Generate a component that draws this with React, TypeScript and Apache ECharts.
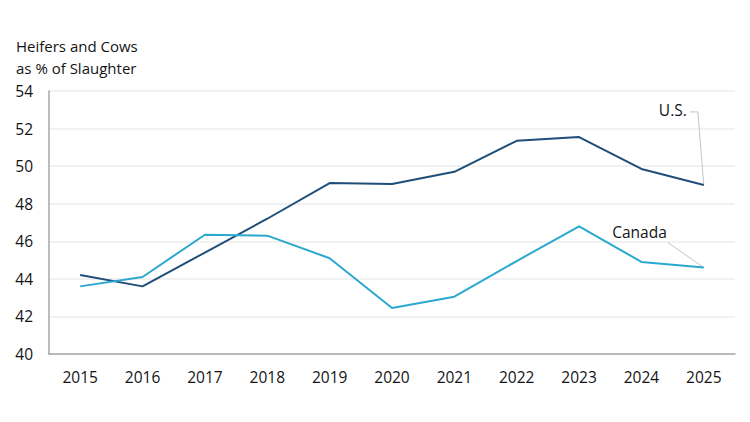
import React, { useEffect, useRef } from "react";
import * as echarts from "echarts";

const years = ["2015", "2016", "2017", "2018", "2019", "2020", "2021", "2022", "2023", "2024", "2025"];
const usValues = [44.2, 43.6, 45.4, 47.2, 49.1, 49.05, 49.7, 51.35, 51.55, 49.85, 49.0];
const canadaValues = [43.6, 44.1, 46.35, 46.3, 45.1, 42.45, 43.05, 44.95, 46.8, 44.9, 44.6];
const yTitleLines = ["Heifers and Cows", "as % of Slaughter"];

const FONT = "'Open Sans', 'Noto Sans', sans-serif";
const TEXT = "#141414";

export default function App() {
  const ref = useRef<HTMLDivElement>(null);
  useEffect(() => {
    if (!ref.current) return;
    const chart = echarts.init(ref.current, null, { renderer: "svg" });
    chart.setOption({
      animation: false,
      grid: { left: 49, right: 15, top: 91, bottom: 68 },
      xAxis: {
        type: "category",
        data: years,
        boundaryGap: true,
        axisLine: { lineStyle: { color: "#a6a6a6", width: 1.5 } },
        axisTick: { show: false },
        axisLabel: { color: TEXT, fontSize: 15.5, fontFamily: FONT, margin: 15 },
      },
      yAxis: {
        type: "value",
        min: 40,
        max: 54,
        interval: 2,
        axisLine: { show: true, lineStyle: { color: "#a6a6a6", width: 1.5 } },
        axisTick: { show: false },
        splitLine: { lineStyle: { color: "#ececec", width: 1.5 } },
        axisLabel: { color: TEXT, fontSize: 15.5, fontFamily: FONT, margin: 16 },
      },
      series: [
        {
          name: "U.S.",
          type: "line",
          data: usValues,
          symbol: "none",
          lineStyle: { color: "#1f4e79", width: 2 },
        },
        {
          name: "Canada",
          type: "line",
          data: canadaValues,
          symbol: "none",
          lineStyle: { color: "#2aa8cf", width: 2 },
        },
      ],
    });

    const last = years.length - 1;
    const usPt = chart.convertToPixel({ seriesIndex: 0 }, [last, usValues[last]]) as number[];
    const caPt = chart.convertToPixel({ seriesIndex: 1 }, [last, canadaValues[last]]) as number[];
    chart.setOption({
      graphic: [
        {
          type: "text",
          left: 16,
          top: 35,
          style: {
            text: yTitleLines.join("\n"),
            fontSize: 15,
            lineHeight: 22,
            fontFamily: FONT,
            fill: TEXT,
          },
        },
        {
          type: "text",
          x: usPt[0] - 17,
          y: usPt[1] - 75,
          style: { text: "U.S.", fontSize: 15.5, fontFamily: FONT, fill: TEXT, align: "right", verticalAlign: "middle" },
        },
        {
          type: "polyline",
          shape: { points: [[usPt[0] - 14, usPt[1] - 73], [usPt[0] - 6, usPt[1] - 73], [usPt[0], usPt[1]]] },
          style: { stroke: "#c4c4c4", lineWidth: 1, fill: "none" },
        },
        {
          type: "text",
          x: caPt[0] - 37,
          y: caPt[1] - 36,
          style: { text: "Canada", fontSize: 15.5, fontFamily: FONT, fill: TEXT, align: "right", verticalAlign: "middle" },
        },
        {
          type: "line",
          shape: { x1: caPt[0] - 36, y1: caPt[1] - 25, x2: caPt[0], y2: caPt[1] },
          style: { stroke: "#c4c4c4", lineWidth: 1 },
        },
      ],
    });
    return () => chart.dispose();
  }, []);
  return <div ref={ref} style={{ width: 750, height: 422, position: "absolute", left: 0, top: 0 }} />;
}
